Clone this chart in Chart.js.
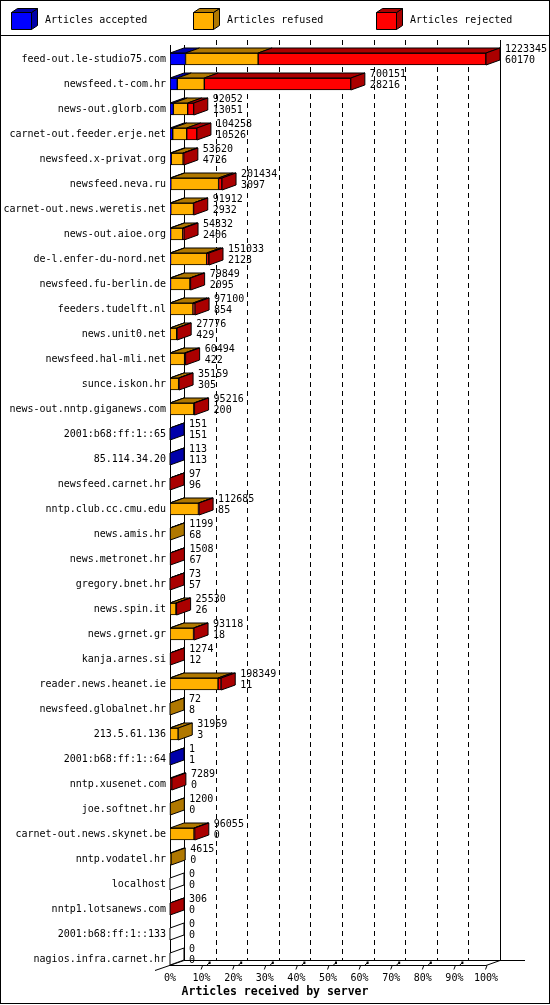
<!DOCTYPE html>
<html><head><meta charset="utf-8">
<script src="https://cdn.jsdelivr.net/npm/chart.js@4.4.1/dist/chart.umd.min.js"></script>
<style>html,body{margin:0;padding:0;background:#fff;} canvas{display:block;}</style>
</head><body>
<canvas id="c" width="550" height="1005" style="width:550px;height:1005px"></canvas>
<script>
const servers = ['feed-out.le-studio75.com','newsfeed.t-com.hr','news-out.glorb.com','carnet-out.feeder.erje.net','newsfeed.x-privat.org','newsfeed.neva.ru','carnet-out.news.weretis.net','news-out.aioe.org','de-l.enfer-du-nord.net','newsfeed.fu-berlin.de','feeders.tudelft.nl','news.unit0.net','newsfeed.hal-mli.net','sunce.iskon.hr','news-out.nntp.giganews.com','2001:b68:ff:1::65','85.114.34.20','newsfeed.carnet.hr','nntp.club.cc.cmu.edu','news.amis.hr','news.metronet.hr','gregory.bnet.hr','news.spin.it','news.grnet.gr','kanja.arnes.si','reader.news.heanet.ie','newsfeed.globalnet.hr','213.5.61.136','2001:b68:ff:1::64','nntp.xusenet.com','joe.softnet.hr','carnet-out.news.skynet.be','nntp.vodatel.hr','localhost','nntp1.lotsanews.com','2001:b68:ff:1::133','nagios.infra.carnet.hr'];
const totalArticles = [1223345,700151,92052,104258,53620,201434,91912,54332,151033,79849,97100,27776,60494,35159,95216,151,113,97,112685,1199,1508,73,25530,93118,1274,198349,72,31969,1,7289,1200,96055,4615,0,306,0,0];
const accepted = [60170,28216,13051,10526,4726,3097,2932,2406,2123,2095,854,429,422,305,200,151,113,96,85,68,67,57,26,18,12,11,8,3,1,0,0,0,0,0,0,0,0];
const refused = [281000,104500,55400,54200,46000,185000,88000,47000,139700,75000,88000,25500,56000,33000,92000,0,0,0,110000,1131,0,0,23000,91000,0,186000,64,31966,0,0,1200,93000,4615,0,0,0,0];
const rejected = [882175,567435,23601,39532,2894,13337,980,4926,9210,2754,8246,1847,4072,1854,3016,0,0,1,2600,0,1441,16,2504,2100,1262,12338,0,0,0,7289,0,3055,0,0,306,0,0];
const seriesLabels = ['Articles accepted','Articles refused','Articles rejected'];
const xTickValues = [0,10,20,30,40,50,60,70,80,90,100];
const axisTitle = 'Articles received by server';

const frontColors = ['#0000FF','#FFB000','#FF0000'];
const sideColors = ['#0000AA','#B07800','#AA0000'];
const FONT = '"DejaVu Sans Mono", monospace';
const DX = 14, DY = 5, BAR = 12;

const maxTotal = Math.max(...totalArticles);
const pct = arr => arr.map(v => v / maxTotal * 100);

function poly(ctx, pts, fill) {
  ctx.beginPath();
  ctx.moveTo(pts[0][0], pts[0][1]);
  for (let k = 1; k < pts.length; k++) ctx.lineTo(pts[k][0], pts[k][1]);
  ctx.closePath();
  if (fill) { ctx.fillStyle = fill; ctx.fill(); }
  ctx.strokeStyle = '#000'; ctx.lineWidth = 1; ctx.stroke();
}
function line(ctx, a, b, c, d) { ctx.beginPath(); ctx.moveTo(a, b); ctx.lineTo(c, d); ctx.stroke(); }

const threeD = {
  id: 'threeD',
  beforeDatasetsDraw(chart) {
    const {ctx, chartArea: ca, scales: {x, y}} = chart;
    const x0 = x.getPixelForValue(0), x100 = x.getPixelForValue(100);
    const floorY = y.getPixelForValue(servers.length - 1) + BAR / 2;
    const topBack = ca.top - 6.5, topFront = ca.top - 1.5;
    ctx.save();
    ctx.strokeStyle = '#000'; ctx.lineWidth = 1;
    ctx.setLineDash([5, 4]);
    xTickValues.forEach(v => {
      if (v > 0 && v < 100) {
        const px = Math.round(x.getPixelForValue(v) + DX) + 0.5;
        line(ctx, px, topBack, px, floorY - DY);
      }
    });
    ctx.setLineDash([]);
    line(ctx, x0 + 0.5, topFront, x0 + 0.5, floorY);
    line(ctx, x0 + DX + 0.5, topFront, x0 + DX + 0.5, floorY - DY);
    line(ctx, x100 + DX + 0.5, topBack, x100 + DX + 0.5, floorY - DY);
    line(ctx, x0, floorY + 0.5, x100, floorY + 0.5);
    line(ctx, x0 + DX, floorY - DY + 0.5, x100 + DX + 25, floorY - DY + 0.5);
    line(ctx, x0 - 15, floorY + 5.5, x0 + DX, floorY - DY + 0.5);
    line(ctx, x100, floorY + 0.5, x100 + DX, floorY - DY + 0.5);
    xTickValues.forEach(v => {
      const px = x.getPixelForValue(v);
      if (v > 0) line(ctx, px - 0.5, floorY + 4.5, px + 1, floorY + 0.5);
      if (v > 0 && v < 100) {
        ctx.fillStyle = '#000';
        ctx.fillRect(px + 7, floorY - 3.5, 2, 2.5);
        line(ctx, px + 5.5, floorY, px + 8, floorY - 2.5);
      }
    });
    ctx.restore();
  },
  afterDatasetsDraw(chart) {
    const {ctx} = chart;
    const xs = chart.scales.x;
    const x0 = xs.getPixelForValue(0);
    const metas = [0, 1, 2].map(d => chart.getDatasetMeta(d));
    ctx.save();
    for (let i = 0; i < servers.length; i++) {
      const el0 = metas[0].data[i];
      const cy = el0.y;
      const top = cy - BAR / 2, bot = cy + BAR / 2;
      let end = x0, lastD = -1;
      for (let d = 0; d < 3; d++) {
        const v = chart.data.datasets[d].data[i];
        if (v > 0) {
          const el = metas[d].data[i];
          const a = Math.min(el.base, el.x), b = Math.max(el.base, el.x);
          poly(ctx, [[a, top], [b, top], [b + DX, top - DY], [a + DX, top - DY]], sideColors[d]);
          end = b; lastD = d;
        }
      }
      poly(ctx, [[end, top], [end + DX, top - DY], [end + DX, bot - DY], [end, bot]], lastD >= 0 ? sideColors[lastD] : '#fff');
      ctx.fillStyle = '#000';
      ctx.font = '10px ' + FONT;
      ctx.textAlign = 'left'; ctx.textBaseline = 'middle';
      ctx.fillText(String(totalArticles[i]), end + DX + 5, cy - 9.5);
      ctx.fillText(String(accepted[i]), end + DX + 5, cy + 1.5);
    }
    ctx.restore();
  },
  afterDraw(chart) {
    const {ctx} = chart;
    ctx.save();
    const legendX = [11, 193, 376];
    chart.data.datasets.forEach((ds, d) => {
      const lx = legendX[d];
      poly(ctx, [[lx + 20.5, 12.5], [lx + 26.5, 8.5], [lx + 26.5, 25.5], [lx + 20.5, 29.5]], sideColors[d]);
      poly(ctx, [[lx + 0.5, 12.5], [lx + 20.5, 12.5], [lx + 26.5, 8.5], [lx + 6.5, 8.5]], sideColors[d]);
      poly(ctx, [[lx + 0.5, 12.5], [lx + 20.5, 12.5], [lx + 20.5, 29.5], [lx + 0.5, 29.5]], frontColors[d]);
      ctx.fillStyle = '#000';
      ctx.font = '10px ' + FONT;
      ctx.textAlign = 'left'; ctx.textBaseline = 'middle';
      ctx.fillText(ds.label, lx + 34, 20.5);
    });
    ctx.strokeStyle = '#000'; ctx.lineWidth = 1;
    line(ctx, 0, 35.5, 550, 35.5);
    ctx.strokeRect(0.5, 0.5, 549, 1003);
    ctx.restore();
  }
};

Chart.defaults.font.family = FONT;
Chart.defaults.font.size = 10;
Chart.defaults.color = '#000';

new Chart(document.getElementById('c'), {
  type: 'bar',
  data: {
    labels: servers,
    datasets: [
      {label: seriesLabels[0], data: pct(accepted), backgroundColor: frontColors[0]},
      {label: seriesLabels[1], data: pct(refused), backgroundColor: frontColors[1]},
      {label: seriesLabels[2], data: pct(rejected), backgroundColor: frontColors[2]}
    ].map(ds => Object.assign(ds, {borderColor: '#000', borderWidth: 1, borderSkipped: false, barThickness: BAR}))
  },
  options: {
    indexAxis: 'y',
    responsive: false,
    animation: false,
    devicePixelRatio: 1,
    layout: {padding: {top: 46.5, right: 0, bottom: 0, left: 0}},
    plugins: {
      legend: {display: false},
      tooltip: {enabled: false},
      title: {
        display: true, position: 'bottom', text: axisTitle, color: '#000',
        font: {family: FONT, size: 11.5, weight: 'bold'},
        padding: {top: 0, bottom: 6}
      }
    },
    scales: {
      x: {
        type: 'linear', stacked: true, min: 0, max: 100,
        afterBuildTicks: s => { s.ticks = xTickValues.map(v => ({value: v})); },
        afterFit: s => { s.height = 13.7; },
        grid: {display: false, drawTicks: false},
        border: {display: false},
        ticks: {autoSkip: false, maxRotation: 0, padding: 1, callback: v => v + '%', font: {family: FONT, size: 10}}
      },
      y: {
        type: 'category', stacked: true,
        afterFit: s => { s.width = 170; },
        grid: {display: false, drawTicks: false},
        border: {display: false},
        ticks: {autoSkip: false, padding: 4, font: {family: FONT, size: 10}}
      },
      yRight: {
        type: 'category', position: 'right',
        afterFit: s => { s.width = 64; },
        grid: {display: false, drawTicks: false},
        border: {display: false},
        ticks: {display: false}
      }
    }
  },
  plugins: [threeD]
});
</script>
</body></html>
